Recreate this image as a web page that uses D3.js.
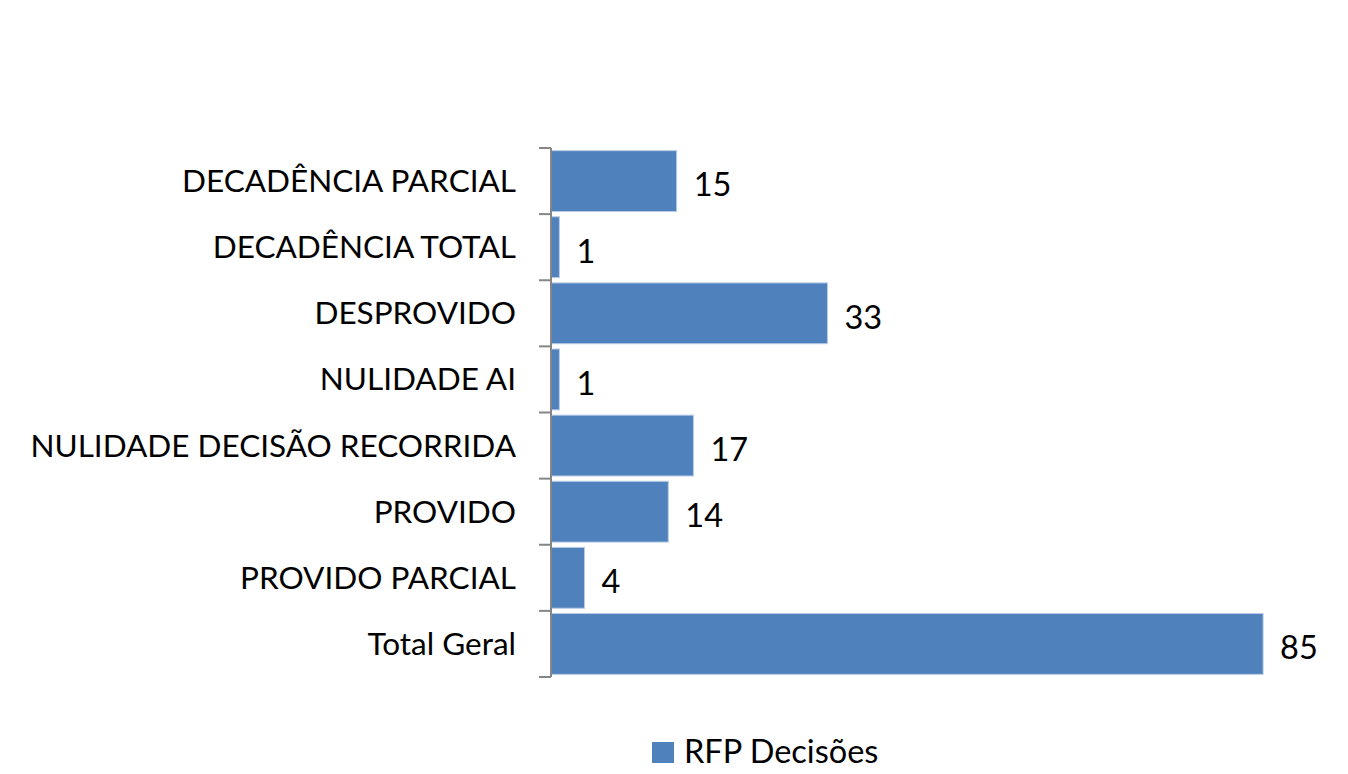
<!DOCTYPE html>
<html>
<head>
<meta charset="utf-8">
<script src="https://cdn.jsdelivr.net/npm/d3@7"></script>
<style>
  body { margin: 0; background: #fff; }
  svg { font-family: Lato, "Open Sans", sans-serif; }
</style>
</head>
<body>
<div id="chart"></div>
<script>
const categories = ["DECADÊNCIA PARCIAL", "DECADÊNCIA TOTAL", "DESPROVIDO", "NULIDADE AI",
  "NULIDADE DECISÃO RECORRIDA", "PROVIDO", "PROVIDO PARCIAL", "Total Geral"]
const values = [15, 1, 33, 1, 17, 14, 4, 85]
const seriesName = "RFP Decisões"

const width = 1348, height = 774
const svg = d3.select("#chart")
    .append("svg")
    .attr("width", width)
    .attr("height", height)

const x = d3.scaleLinear().domain([0, 90]).range([551, 1305])
const y = d3.scaleBand().domain(categories).range([148, 677]).paddingInner(0.08).paddingOuter(0.04)

const fill = "#4f81bd"

svg.append("g")
  .selectAll("rect")
  .data(values)
  .join("rect")
    .attr("x", x(0))
    .attr("y", (d, i) => y(categories[i]))
    .attr("width", d => x(d) - x(0))
    .attr("height", y.bandwidth())
    .attr("fill", fill)
    .attr("stroke", "#b9cde5")
    .attr("stroke-width", 1)

// axis on the left with ticks between categories
const axisG = svg.append("g").attr("stroke", "#868686").attr("stroke-width", 2)
axisG.append("line")
    .attr("x1", x(0)).attr("x2", x(0))
    .attr("y1", 148).attr("y2", 677)
const step = (677 - 148) / categories.length
axisG.selectAll("line.tick")
  .data(d3.range(categories.length + 1))
  .join("line")
    .attr("class", "tick")
    .attr("x1", x(0) - 12).attr("x2", x(0))
    .attr("y1", i => 148 + i * step).attr("y2", i => 148 + i * step)

svg.append("g")
  .selectAll("text")
  .data(categories)
  .join("text")
    .attr("x", 516)
    .attr("y", d => y(d) + y.bandwidth() / 2)
    .attr("dy", "0.35em")
    .attr("text-anchor", "end")
    .attr("font-size", 31.5)
    .attr("fill", "#000")
    .text(d => d)

svg.append("g")
  .selectAll("text")
  .data(values)
  .join("text")
    .attr("x", d => x(d) + 17)
    .attr("y", (d, i) => y(categories[i]) + y.bandwidth() / 2 + 4)
    .attr("dy", "0.35em")
    .attr("font-size", 32.5)
    .attr("fill", "#000")
    .text(d => d)

const legend = svg.append("g")
legend.append("rect")
    .attr("x", 652).attr("y", 742)
    .attr("width", 22).attr("height", 21)
    .attr("fill", fill)
legend.append("text")
    .attr("x", 684).attr("y", 752)
    .attr("dy", "0.35em")
    .attr("font-size", 32.5)
    .text(seriesName)
</script>
</body>
</html>
